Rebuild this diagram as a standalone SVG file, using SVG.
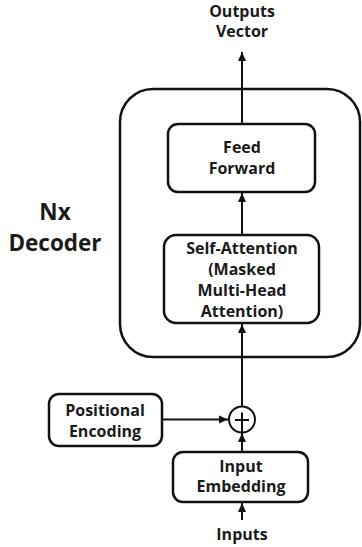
<svg xmlns="http://www.w3.org/2000/svg" width="362" height="547" viewBox="0 0 362 547">
  <style>
    .box { fill: #fff; stroke: #111; stroke-width: 2.5; }
    .t { font-family: "Open Sans", "Noto Sans", "DejaVu Sans", sans-serif; font-weight: 700; font-size: 16px; fill: #1a1a1a; text-anchor: middle; }
    .big { font-size: 22.5px; }
    .edge { fill: none; stroke: #111; stroke-width: 2; }
  </style>
  <defs>
    <marker id="arrow" markerUnits="userSpaceOnUse" markerWidth="10" markerHeight="10" viewBox="0 0 10 10" refX="9" refY="5" orient="auto">
      <path d="M0,1 L9,5 L0,9 Z" fill="#111"/>
    </marker>
  </defs>
  <rect width="362" height="547" fill="#fff"/>

  <g id="decoder-frame">
    <rect x="120" y="89" width="240" height="268" rx="33" ry="33" fill="none" stroke="#111" stroke-width="2.5"/>
  </g>
  <g id="nx-decoder-label">
    <text class="t big" x="55" y="220">Nx</text>
    <text class="t big" x="55" y="251">Decoder</text>
  </g>

  <g id="connectors">
    <line class="edge" x1="242" y1="520" x2="242" y2="503" marker-end="url(#arrow)"/>
    <line class="edge" x1="242" y1="452" x2="242" y2="433" marker-end="url(#arrow)"/>
    <line class="edge" x1="162" y1="419.5" x2="228" y2="419.5" marker-end="url(#arrow)"/>
    <line class="edge" x1="242" y1="406" x2="242" y2="324" marker-end="url(#arrow)"/>
    <line class="edge" x1="242" y1="235" x2="242" y2="193" marker-end="url(#arrow)"/>
    <line class="edge" x1="242" y1="124" x2="242" y2="52" marker-end="url(#arrow)"/>
  </g>

  <g id="outputs">
    <text class="t" x="242" y="17">Outputs</text>
    <text class="t" x="242" y="37">Vector</text>
  </g>

  <g id="feed-forward">
    <rect class="box" x="168" y="124" width="147" height="68" rx="10" ry="10"/>
    <text class="t" x="242" y="153">Feed</text>
    <text class="t" x="242" y="174">Forward</text>
  </g>

  <g id="self-attention">
    <rect class="box" x="164" y="235" width="155" height="88" rx="12" ry="12"/>
    <text class="t" x="242" y="254">Self-Attention</text>
    <text class="t" x="242" y="275">(Masked</text>
    <text class="t" x="242" y="296">Multi-Head</text>
    <text class="t" x="242" y="317">Attention)</text>
  </g>

  <g id="positional-encoding">
    <rect class="box" x="49" y="394" width="113" height="52" rx="10" ry="10"/>
    <text class="t" x="105" y="416">Positional</text>
    <text class="t" x="105" y="437">Encoding</text>
  </g>

  <g id="add">
    <circle cx="242" cy="419.5" r="13" fill="#fff" stroke="#111" stroke-width="2"/>
    <line x1="235" y1="420" x2="249" y2="420" stroke="#111" stroke-width="2"/>
    <line x1="242" y1="412.5" x2="242" y2="432.5" stroke="#111" stroke-width="2"/>
  </g>

  <g id="input-embedding">
    <rect class="box" x="173" y="452" width="135" height="50" rx="10" ry="10"/>
    <text class="t" x="241" y="472">Input</text>
    <text class="t" x="241" y="492">Embedding</text>
  </g>

  <g id="inputs">
    <text class="t" x="242" y="540">Inputs</text>
  </g>
</svg>
